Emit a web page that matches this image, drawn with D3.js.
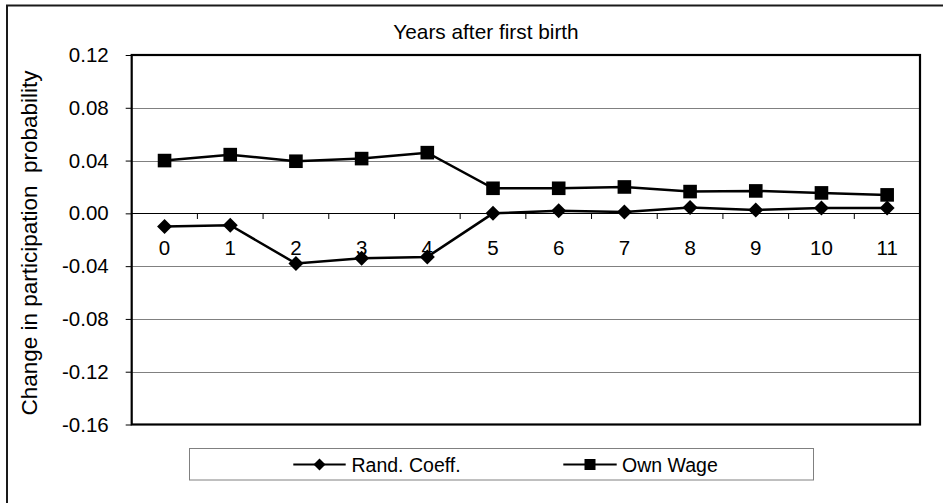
<!DOCTYPE html>
<html>
<head>
<meta charset="utf-8">
<script src="https://cdn.jsdelivr.net/npm/d3@7"></script>
<style>
  html, body { margin: 0; padding: 0; background: #fff; }
  svg { display: block; }
  text { font-family: "Liberation Sans", Arial, Helvetica, sans-serif; fill: #000; }
</style>
</head>
<body>
<svg id="chart" width="943" height="503"></svg>
<script>
const categories = ["0","1","2","3","4","5","6","7","8","9","10","11"];
const randCoeff = [-0.010, -0.009, -0.038, -0.034, -0.033, 0.000, 0.002, 0.001, 0.0045, 0.0025, 0.004, 0.004];
const ownWage   = [0.040, 0.0445, 0.0395, 0.0415, 0.046, 0.019, 0.019, 0.020, 0.0165, 0.017, 0.0155, 0.014];
const yTicks = [0.12, 0.08, 0.04, 0.00, -0.04, -0.08, -0.12, -0.16];
const seriesNames = ["Rand. Coeff.", "Own Wage"];
const titleText = "Years after first birth";
const yTitle = "Change in participation\u00a0\u00a0probability";

const svg = d3.select("#chart");
const plot = {left: 131.7, top: 55, right: 920, bottom: 424.5};

// outer frame
svg.append("rect").attr("x", 7).attr("y", 5.5).attr("width", 960).attr("height", 520)
  .attr("fill", "none").attr("stroke", "#1a1a1a").attr("stroke-width", 2);

const x = d3.scaleBand().domain(categories).range([plot.left, plot.right]).paddingInner(0).paddingOuter(0);
const y = d3.scaleLinear().domain([-0.16, 0.12]).range([plot.bottom, plot.top]);

// gridlines
svg.append("g").selectAll("line").data(yTicks.filter(d => d !== 0.12 && d !== -0.16 && d !== 0))
  .join("line")
  .attr("x1", plot.left).attr("x2", plot.right)
  .attr("y1", d => Math.round(y(d)) + 0.5).attr("y2", d => Math.round(y(d)) + 0.5)
  .attr("stroke", "#808080").attr("stroke-width", 1);

// y axis ticks and labels
const yAxis = d3.axisLeft(y).tickValues(yTicks).tickSize(6).tickPadding(17)
  .tickFormat(d => d.toFixed(2));
const gy = svg.append("g").attr("transform", `translate(${plot.left},0)`).call(yAxis);
gy.attr("font-size", null).attr("font-family", null);
gy.select(".domain").remove();
gy.selectAll(".tick line").attr("stroke", "#000");
gy.selectAll(".tick text").style("font-size", "20.5px").attr("fill", "#000");

// zero axis line with category boundary ticks
const y0 = Math.round(y(0)) + 0.5;
svg.append("line").attr("x1", plot.left).attr("x2", plot.right).attr("y1", y0).attr("y2", y0)
  .attr("stroke", "#000").attr("stroke-width", 1);
svg.append("g").selectAll("line").data(categories.slice(1))
  .join("line")
  .attr("x1", d => x(d)).attr("x2", d => x(d))
  .attr("y1", y0).attr("y2", y0 + 5.5)
  .attr("stroke", "#000").attr("stroke-width", 1);

// category labels
svg.append("g").selectAll("text").data(categories)
  .join("text")
  .attr("x", d => x(d) + x.bandwidth() / 2)
  .attr("y", 255)
  .attr("text-anchor", "middle")
  .style("font-size", "20.5px")
  .text(d => d);

// plot border
svg.append("rect").attr("x", plot.left).attr("y", plot.top)
  .attr("width", plot.right - plot.left).attr("height", plot.bottom - plot.top)
  .attr("fill", "none").attr("stroke", "#000").attr("stroke-width", 2.2);

// lines
const cx = (d, i) => x(categories[i]) + x.bandwidth() / 2;
const line = d3.line().x((d, i) => cx(d, i)).y(d => y(d));
svg.append("path").datum(randCoeff).attr("d", line)
  .attr("fill", "none").attr("stroke", "#000").attr("stroke-width", 2.5);
svg.append("path").datum(ownWage).attr("d", line)
  .attr("fill", "none").attr("stroke", "#000").attr("stroke-width", 2.5);

// markers
const ds = 7.5;
svg.append("g").selectAll("path").data(randCoeff).join("path")
  .attr("d", (d, i) => { const px = cx(d, i), py = y(d);
    return `M${px},${py - ds}L${px + ds},${py}L${px},${py + ds}L${px - ds},${py}Z`; })
  .attr("fill", "#000");
const sq = 6.8;
svg.append("g").selectAll("rect").data(ownWage).join("rect")
  .attr("x", (d, i) => cx(d, i) - sq).attr("y", d => y(d) - sq)
  .attr("width", sq * 2).attr("height", sq * 2)
  .attr("fill", "#000");

// title
svg.append("text").attr("x", 486).attr("y", 38.5).attr("text-anchor", "middle")
  .style("font-size", "20.8px").text(titleText);

// y title
svg.append("text").attr("transform", "translate(37,243) rotate(-90)")
  .attr("text-anchor", "middle").style("font-size", "22.5px").text(yTitle);

// legend
svg.append("rect").attr("x", 189.5).attr("y", 448.5).attr("width", 624).attr("height", 31.5)
  .attr("fill", "#fff").attr("stroke", "#808080").attr("stroke-width", 1);
const legendY = 464.5;
const legendItems = [
  {name: seriesNames[0], x1: 293.3, x2: 345.7, tx: 351.5, shape: "diamond"},
  {name: seriesNames[1], x1: 563.3, x2: 616.7, tx: 622, shape: "square"}
];
legendItems.forEach(it => {
  svg.append("line").attr("x1", it.x1).attr("x2", it.x2).attr("y1", legendY).attr("y2", legendY)
    .attr("stroke", "#000").attr("stroke-width", 2.2);
  const mx = (it.x1 + it.x2) / 2;
  if (it.shape === "diamond") {
    const s = 6;
    svg.append("path").attr("d", `M${mx},${legendY - s}L${mx + s},${legendY}L${mx},${legendY + s}L${mx - s},${legendY}Z`).attr("fill", "#000");
  } else {
    const s = 5.5;
    svg.append("rect").attr("x", mx - s).attr("y", legendY - s).attr("width", 2 * s).attr("height", 2 * s).attr("fill", "#000");
  }
  svg.append("text").attr("x", it.tx).attr("y", 471.5).style("font-size", "19.5px").text(it.name);
});
</script>
</body>
</html>
